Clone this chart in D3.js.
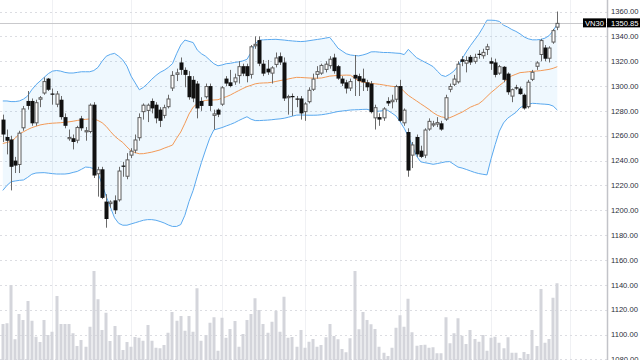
<!DOCTYPE html>
<html><head><meta charset="utf-8">
<script src="https://cdn.jsdelivr.net/npm/d3@7/dist/d3.min.js"></script>
<style>html,body{margin:0;padding:0;background:#fff;overflow:hidden}svg{display:block}</style>
</head><body><svg id="c" width="640" height="360"></svg>
<script>
const symbol = "VN30";
const lastPrice = 1350.85;
const priceTicks = [1360,1340,1320,1300,1280,1260,1240,1220,1200,1180,1160,1140,1120,1100,1080];
const monthStartIdx = [12,31,53,73,96,118,137];

const open = [1273,1259,1257,1240,1236.5,1266,1288,1288,1270,1289,
1294,1306,1294,1285,1289,1275,1258,1258,1256,1274,
1264,1263,1285,1229,1233,1207,1205,1208,1208,1236,
1227,1244,1248,1258,1279,1280,1288,1285,1281,1276,
1283,1298,1309,1319,1313,1308,1305,1302,1288,1291,
1300,1276,1281,1285,1306,1303,1303,1308,1316,1316,
1309,1332,1337,1318,1314,1310,1317,1324,1319,1291,
1292,1290,1290,1279,1287,1297,1309,1310,1313,1316,
1323,1316,1306,1303,1298,1309,1308,1306,1303,1302,
1274,1275,1274,1288,1287,1289,1300,1270,1263,1244,
1259,1248,1244,1265,1269,1269,1270,1273,1297,1301,
1303,1321.5,1318,1323.5,1319.5,1326,1324,1329,1320,1319,
1310,1315.5,1310,1291.5,1299,1298,1293,1283,1305,1315.5,
1325,1331,1322,1335,1347];
const high = [1277,1265,1260,1243,1264,1284,1296,1290,1289,1292,
1307,1306.5,1298,1296,1292,1278,1265,1261,1268,1276,
1267,1286,1287,1235,1235,1213,1208,1212,1235,1239,
1246,1250,1261,1278,1286,1286,1290,1287,1283,1285,
1293,1312,1314,1323,1315,1312,1308,1304,1291,1302,
1302,1281,1282,1300,1308,1313,1310,1320,1318,1318,
1333,1340,1340,1321,1321,1316,1327,1327,1323,1293,
1294,1292,1292,1287,1299,1310,1316,1318,1320,1324,
1326,1317,1308,1305,1306,1325,1310,1314,1305,1304,
1285,1278,1283,1291,1293,1301,1305,1282,1266,1255,
1261,1252,1266,1274,1272,1275,1272,1293,1302,1309,
1320,1324,1324,1325,1326,1329,1330,1334,1323,1322,
1317,1316,1311,1298,1301,1299.5,1294,1305,1313,1320,
1338,1333,1332,1346,1360];
const low = [1255,1245,1216,1230,1230,1264,1281,1268,1268,1283,
1293,1296,1285,1283,1273,1266,1256,1249,1254,1264,
1256,1262,1226,1211,1209,1186,1202,1197,1207,1227,
1225,1242,1246,1256,1273,1271,1278,1270,1267,1274,
1282,1296,1304,1309,1299,1289,1287,1274,1280,1290,
1280,1265,1275,1284,1300,1299,1301,1302,1308,1303,
1306,1330,1316,1308,1309,1302,1315,1317,1288,1277,
1276,1283,1273,1272,1286,1296,1306,1309,1311,1314,
1310,1305,1300,1294,1296,1292,1292,1296,1296,1278,
1265,1268,1272,1284,1282,1287,1271,1268,1227,1234,
1243,1242,1242,1264,1267,1267,1264,1272,1295,1300,
1302,1316,1311,1317,1318,1322,1322,1325,1313,1307,
1309,1303,1293,1287,1297,1293,1281,1282,1304,1313,
1320,1320,1319,1334,1345];
const close = [1261,1256,1235,1236,1262.5,1282,1284,1270,1287,1291,
1304,1297,1293,1294,1275,1268,1259,1255,1267,1266,
1264.5,1285,1228,1233,1210,1193,1207,1200,1232,1235,
1241,1248,1257,1275,1285,1285,1282,1274,1272,1283,
1290,1309,1311,1313,1309,1291,1290,1282,1284,1300,
1284,1278,1277,1299,1302,1300,1307,1316,1310,1308,
1332,1334,1318,1310,1311,1315,1323,1319,1290,1292,
1291,1289,1278,1286,1297,1306,1312,1317,1318,1322,
1312,1306,1302,1298,1304,1306,1304,1303,1299,1279,
1283,1273,1282,1286,1289,1300,1272,1281,1232,1253,
1245,1243,1265,1272,1270,1271,1265,1291,1300,1306,
1318,1319.5,1321,1319,1323.5,1325,1327.5,1332,1318,1309,
1316,1305,1295,1297.5,1298,1293.5,1282,1303.5,1311.5,1319,
1337,1322,1331,1345,1350.85];
const volume = [144,147,300,83,184,160,236,157,93,72,
160,100,113,256,144,144,144,107,56,80,
53,133,356,243,120,189,76,136,100,40,
72,53,92,89,77,140,77,49,47,60,
109,192,157,176,117,176,113,287,77,100,
149,171,37,169,89,124,156,53,104,160,
184,247,200,144,109,153,197,113,253,89,
92,53,120,49,73,84,53,60,91,144,
96,83,44,31,87,356,123,192,160,143,
124,53,29,16,49,129,179,133,245,111,
57,60,61,49,51,27,27,171,67,107,
167,97,64,120,84,73,100,37,89,93,
69,47,91,29,29,8,32,24,120,56,
284,69,84,249,307];
const bbUpper = [1288,1288,1287.5,1287.5,1288,1289.5,1292,1297,1301,1304,
1307,1310,1312,1312.5,1312,1311,1310.5,1310.5,1311,1311.5,
1311.5,1311.5,1312.5,1315,1320,1324,1325.5,1326.3,1324,1321,
1316,1308,1302.5,1297,1299,1302,1305.5,1308.5,1311,1312.7,
1315,1318,1326,1333,1337,1336,1335,1329,1326,1324,
1321,1318,1316.3,1317,1318,1318.3,1319,1319.5,1320.2,1321.5,
1327,1334,1337,1337.2,1337.4,1337.5,1337.6,1337.3,1337,1336.6,
1336.3,1336,1335.8,1336,1336.5,1337,1337.5,1338,1338.6,1339.2,
1335,1330.5,1328.2,1326,1325,1324.6,1324.3,1325,1326,1327.5,
1327.6,1327.3,1327,1327,1326.8,1326.5,1326.3,1325.3,1329.5,1326,
1322.8,1321,1319.2,1317.5,1315.6,1312,1308.7,1307.7,1309.5,1312,
1316,1322,1327.5,1332.5,1337,1341.5,1347,1353,1353,1352.8,
1352,1349,1347.5,1345.5,1344,1342,1339.5,1338,1337.2,1337.2,
1337.5,1338.5,1340.5,1344.5,1350];
const bbMiddle = [1253.8,1254.6,1255.5,1258,1261.5,1263.2,1265,1266.5,1267.6,1268.7,
1269.3,1269.8,1270.1,1270.3,1270.5,1270.9,1271.2,1271.7,1272.3,1272.8,
1273.2,1273.5,1273.4,1272.3,1270.5,1267.5,1263.5,1259.8,1257,1254.6,
1251,1247.8,1246.4,1245.5,1245.6,1246.2,1246.8,1247.7,1248.6,1250,
1251.2,1252.5,1258,1263,1270,1277.5,1283,1286,1287.6,1288.4,
1288.8,1288.8,1289,1290.3,1291.4,1292.8,1294.6,1296.3,1298,1299.5,
1300.6,1301.8,1302.3,1302.5,1302.6,1303,1303.7,1304.4,1305,1305.7,
1306.4,1307,1306.9,1306.7,1306.5,1306.4,1306.3,1306.5,1307.2,1308,
1308.3,1308.5,1308.7,1308.8,1308.7,1306.5,1304,1303.1,1302.6,1302.1,
1301.8,1301.4,1300.9,1300.3,1299.8,1299.4,1299,1295.5,1292.5,1290.2,
1288,1285.7,1283.5,1281.2,1278.6,1276.5,1275.2,1274.6,1274.5,1275.9,
1277.5,1279,1281,1283,1284.4,1285.7,1288.3,1291.6,1294.8,1297.5,
1300.4,1303,1306,1308.2,1309.5,1310.8,1311.1,1311.5,1311.8,1312.1,
1312.4,1312.9,1313.4,1314.3,1315.6];
const bbLower = [1216,1220,1223,1223.6,1224.1,1224.4,1226.5,1229,1230,1230.2,
1230.3,1229.9,1229.5,1229.2,1229.2,1229.2,1229.6,1230.5,1231.3,1233,
1234.8,1234.5,1233.5,1230,1221,1211,1202.5,1194,1189.5,1188,
1188,1189,1190,1191,1192,1192.5,1192.5,1192,1191,1189.8,
1188.2,1187,1187,1188.5,1196,1207,1216,1227.5,1238.5,1248.5,
1258,1264.7,1265.6,1266.6,1267.9,1269.1,1270.5,1272.2,1273.8,1275.3,
1273.3,1272.2,1272.2,1272.4,1272.6,1272.9,1273.3,1273.6,1274.1,1274.9,
1275.8,1276.6,1276.7,1276.6,1276.5,1276.5,1276.6,1276.9,1277.4,1278,
1278.8,1279.5,1279.9,1280.3,1280.7,1280.9,1281,1281.2,1281.3,1280.4,
1279.6,1279.8,1280.3,1280.5,1278.3,1276,1271.3,1266,1259.5,1251.5,
1243.5,1239,1238.3,1237.7,1237,1237.6,1238.3,1239,1239.2,1237,
1234.8,1234,1232.9,1231.7,1230.5,1229.6,1229,1228.5,1241.5,1253,
1263.7,1270.3,1274.1,1276.5,1278.8,1282.5,1284.5,1285.4,1286.1,1285.9,
1285.6,1285.4,1285.1,1283.9,1280.7];

const W = 640, H = 360, paneW = 607;
const FONT = "'Liberation Sans', Arial, sans-serif";
const svg = d3.select("#c");
svg.append("rect").attr("width", W).attr("height", H).attr("fill", "#fff");

const idx = d3.range(close.length);
const x = d3.scaleLinear().domain([-0.677, 146.01]).range([0, paneW]);
const y = d3.scaleLinear().domain([1080, 1360]).range([359.4, 11.5]);
const yv = d3.scaleLinear().domain([0, 400]).range([360, 260]);

const pane = svg.append("g");
pane.append("clipPath").attr("id","pc").append("rect").attr("width", paneW).attr("height", H);
const g = pane.append("g").attr("clip-path","url(#pc)");

// grid
g.selectAll(".vg").data(monthStartIdx).join("line")
  .attr("x1", d => Math.round(x(d)) + 0.5).attr("x2", d => Math.round(x(d)) + 0.5)
  .attr("y1", 0).attr("y2", H).attr("stroke", "#f0f1f4").attr("stroke-width", 1);
g.selectAll(".hg").data(priceTicks).join("line")
  .attr("x1", 0).attr("x2", paneW)
  .attr("y1", d => Math.round(y(d)) + 0.5).attr("y2", d => Math.round(y(d)) + 0.5)
  .attr("stroke", "#dcdde2").attr("stroke-width", 1).attr("stroke-dasharray", "2,3");

// volume
g.selectAll(".vol").data(idx).join("rect")
  .attr("x", i => Math.round(x(i)) - 1.5).attr("width", 3)
  .attr("y", i => yv(volume[i])).attr("height", i => yv(0) - yv(volume[i]))
  .attr("fill", "#d4d5db");

// bollinger
const area = d3.area().x(i => x(i)).y0(i => y(bbLower[i])).y1(i => y(bbUpper[i]));
g.append("path").datum(idx).attr("d", area).attr("fill", "rgba(33,150,243,0.07)");
const line = arr => d3.line().x(i => x(i)).y(i => y(arr[i]));
g.append("path").datum(idx).attr("d", line(bbUpper)).attr("fill","none").attr("stroke","#5aa9ef").attr("stroke-width",1);
g.append("path").datum(idx).attr("d", line(bbLower)).attr("fill","none").attr("stroke","#5aa9ef").attr("stroke-width",1);
g.append("path").datum(idx).attr("d", line(bbMiddle)).attr("fill","none").attr("stroke","#f39a57").attr("stroke-width",1);

// last price line
g.append("line").attr("x1",0).attr("x2",paneW)
  .attr("y1", Math.round(y(lastPrice)) + 0.5).attr("y2", Math.round(y(lastPrice)) + 0.5)
  .attr("stroke","#c9c9cc").attr("stroke-width",1);

// candles
const cg = g.selectAll(".cd").data(idx).join("g");
cg.append("line")
  .attr("x1", i => Math.round(x(i)) + 0.5).attr("x2", i => Math.round(x(i)) + 0.5)
  .attr("y1", i => y(high[i])).attr("y2", i => y(low[i]))
  .attr("stroke", "#6a6a6a").attr("stroke-width", 1);
cg.append("rect")
  .attr("x", i => Math.round(x(i)) - 1 + (close[i] >= open[i] ? 0 : -0.5))
  .attr("width", i => close[i] >= open[i] ? 3 : 4)
  .attr("y", i => y(Math.max(open[i], close[i])) + (close[i] >= open[i] ? 0.5 : 0))
  .attr("height", i => Math.max(1.2, Math.abs(y(open[i]) - y(close[i])) - (close[i] >= open[i] ? 1 : 0)))
  .attr("fill", i => close[i] >= open[i] ? "#ffffff" : "#111111")
  .attr("stroke", i => close[i] >= open[i] ? "#5a5a5a" : "none")
  .attr("stroke-width", 1);

// axis
svg.append("line").attr("x1", paneW + 0.5).attr("x2", paneW + 0.5).attr("y1", 0).attr("y2", H)
  .attr("stroke", "#c2c3c8").attr("stroke-width", 1.5);
svg.selectAll(".tl").data(priceTicks).join("text")
  .attr("x", 611).attr("y", d => y(d)).attr("dy", "0.35em")
  .attr("font-family", FONT).attr("font-size", 7.6)
  .attr("fill", "#2a2e39").text(d => d3.format(".2f")(d));

// last price label + symbol tag
const ly = y(lastPrice);
svg.append("rect").attr("x", 583).attr("y", ly - 4.5).attr("width", 23).attr("height", 9).attr("fill", "#000");
svg.append("text").attr("x", 594.5).attr("y", ly).attr("dy", "0.35em").attr("text-anchor","middle")
  .attr("font-family", FONT).attr("font-size", 7.6).attr("fill", "#fff").text(symbol);
svg.append("rect").attr("x", 607).attr("y", ly - 4.5).attr("width", 33).attr("height", 9).attr("fill", "#000");
svg.append("text").attr("x", 611).attr("y", ly).attr("dy", "0.35em")
  .attr("font-family", FONT).attr("font-size", 7.6)
  .attr("fill", "#fff").text(d3.format(".2f")(lastPrice));
</script></body></html>
